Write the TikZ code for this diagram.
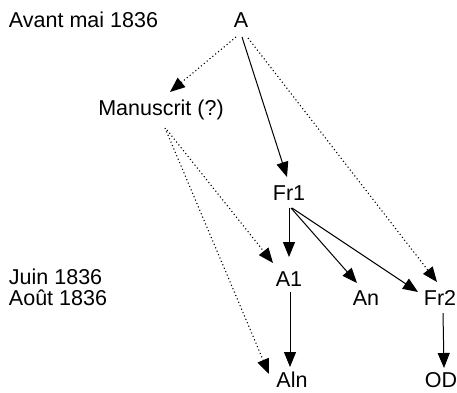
\documentclass[tikz,border=0pt]{standalone}
\usepackage{fontspec}
\setmainfont{Liberation Sans}
\usetikzlibrary{arrows.meta}
\begin{document}
\begin{tikzpicture}[x=1pt,y=-1pt,
  lbl/.style={inner sep=0pt,outer sep=0pt,text height=15.4pt,text depth=0pt,font=\fontsize{21.5}{24}\selectfont},
  dlbl/.style={lbl,anchor=west},
  sarr/.style={line width=1pt,-{Triangle[length=15pt,width=12pt]}},
  darr/.style={line width=1.1pt,dash pattern=on 1.1pt off 2.6pt,-{Triangle[length=15pt,width=12pt]}}]
\useasboundingbox (0,0) rectangle (457,392);
\node[dlbl] (t1) at (9,20) {Avant mai 1836};
\node[dlbl] (t2) at (9,277) {Juin 1836};
\node[dlbl] (t3) at (9,298) {Août 1836};
\node[lbl] (A) at (241,20) {A};
\node[lbl] (M) at (161,108) {Manuscrit (?)};
\node[lbl] (Fr1) at (289,193) {Fr1};
\node[lbl] (A1) at (289,279) {A1};
\node[lbl] (An) at (366,298) {An};
\node[lbl] (Fr2) at (440,298) {Fr2};
\node[lbl] (Aln) at (292,380) {Aln};
\node[lbl] (OD) at (441,380) {OD};
\draw[darr] ([shift={(-5,17)}]A.center) -- ([shift={(9,-16)}]M.center);
\draw[sarr] ([shift={(1,17)}]A.center) -- ([shift={(-2,-16)}]Fr1.center);
\draw[darr] ([shift={(7,18)}]A.center) -- ([shift={(-3,-16)}]Fr2.center);
\draw[darr] ([shift={(6,22)}]M.center) -- ([shift={(-16,-16)}]A1.center);
\draw[darr] ([shift={(4,20)}]M.center) -- ([shift={(-23,-6)}]Aln.center);
\draw[sarr] ([shift={(0,15)}]Fr1.center) -- ([shift={(0,-22)}]A1.center);
\draw[sarr] ([shift={(2,15)}]Fr1.center) -- ([shift={(-9,-15)}]An.center);
\draw[sarr] ([shift={(3,15)}]Fr1.center) -- ([shift={(-22,-6)}]Fr2.center);
\draw[sarr] ([shift={(1,13)}]A1.center) -- ([shift={(-2,-13)}]Aln.center);
\draw[sarr] ([shift={(3,15)}]Fr2.center) -- ([shift={(3,-12)}]OD.center);
\end{tikzpicture}
\end{document}
